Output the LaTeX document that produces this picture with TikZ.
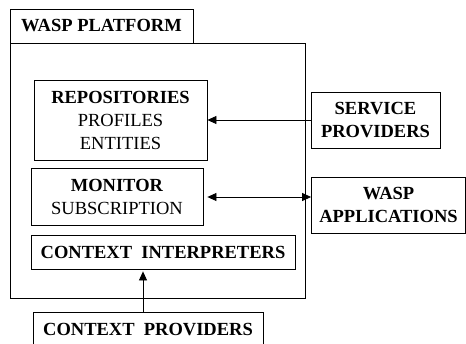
\documentclass[tikz,border=0pt]{standalone}
\usepackage{fontspec}
\setmainfont{Liberation Serif}
\usetikzlibrary{arrows.meta}

\tikzset{
  box/.style={draw,line width=0.8pt,inner sep=0pt,align=center,
    font=\fontsize{18.5}{23}\selectfont},
  arr/.style={line width=0.8pt,-{Triangle[length=9pt,width=8pt]}},
  dualarr/.style={line width=0.8pt,{Triangle[length=9pt,width=8pt]}-{Triangle[length=9pt,width=8pt]}}
}

\begin{document}
\begin{tikzpicture}[x=1pt,y=-1pt]
    \useasboundingbox (0,0) rectangle (466,343);

    \node[box,minimum width=295pt,minimum height=255pt] (platform) at (157.5,170.5) {};
    \node[box,minimum width=183pt,minimum height=34pt] (title) at (101.5,26) {\textbf{WASP PLATFORM}};

    \node[box,minimum width=173pt,minimum height=80pt] (repo) at (120.5,120)
      {\textbf{REPOSITORIES}\\PROFILES\\ENTITIES};
    \node[box,minimum width=172pt,minimum height=57pt] (monitor) at (117,197)
      {\textbf{MONITOR}\\SUBSCRIPTION};
    \node[box,minimum width=264pt,minimum height=34pt] (interp) at (163,252)
      {\textbf{CONTEXT\ \ INTERPRETERS}};

    \node[box,minimum width=129pt,minimum height=56pt] (service) at (375.5,120)
      {\textbf{SERVICE}\\\textbf{PROVIDERS}};
    \node[box,minimum width=154pt,minimum height=56pt] (apps) at (388.5,205)
      {\textbf{WASP}\\\textbf{APPLICATIONS}};
    \node[box,minimum width=230pt,minimum height=36pt] (cprov) at (148,330)
      {\textbf{CONTEXT\ \ PROVIDERS}};

    \draw[arr] (service.west) -- (repo.east);
    \draw[dualarr] ([xshift=4pt]monitor.east) -- (monitor.east -| apps.west);
    \draw[arr] ([xshift=-5pt]cprov.north) -- ([xshift=-5pt,yshift=-2pt]cprov.north |- interp.south);
\end{tikzpicture}
\end{document}
